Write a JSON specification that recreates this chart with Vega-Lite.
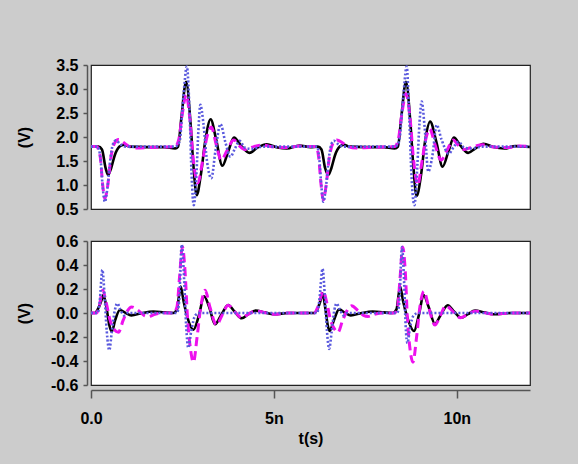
{
  "$schema": "https://vega.github.io/schema/vega-lite/v6.json",
  "autosize": {"type": "none"},
  "padding": {"left": 91, "top": 65, "right": 487, "bottom": 399},
  "background": "#cccccc",
  "config": {
    "font": "Liberation Sans",
    "view": {"fill": "white", "stroke": "#222222", "strokeWidth": 1.2},
    "axis": {
      "labelFont": "Liberation Sans", "labelFontSize": 16, "labelFontWeight": "bold", "labelColor": "black",
      "titleFont": "Liberation Sans", "titleFontSize": 16, "titleFontWeight": "bold", "titleColor": "black",
      "domainColor": "#555555", "domainWidth": 1.5, "tickColor": "#555555", "tickWidth": 1.5, "grid": false,
      "labelFlush": false, "labelOverlap": false
    }
  },
  "datasets": {
    "topSolid": [
      {"t":0,"v":1.8},{"t":0.2,"v":1.8},{"t":0.3,"v":1.74},{"t":0.4,"v":1.35},{"t":0.47,"v":1.21},{"t":0.55,"v":1.35},{"t":0.65,"v":1.62},{"t":0.78,"v":1.8},{"t":0.9,"v":1.84},{"t":1.05,"v":1.8},{"t":1.5,"v":1.79},{"t":2.0,"v":1.79},{"t":2.3,"v":1.76},{"t":2.38,"v":1.8},{"t":2.47,"v":2.4},{"t":2.6,"v":3.15},{"t":2.72,"v":2.3},{"t":2.8,"v":1.4},{"t":2.89,"v":0.79},{"t":3.0,"v":1.2},{"t":3.12,"v":1.9},{"t":3.27,"v":2.37},{"t":3.42,"v":1.95},{"t":3.59,"v":1.4},{"t":3.75,"v":1.7},{"t":3.91,"v":1.99},{"t":4.1,"v":1.82},{"t":4.33,"v":1.67},{"t":4.55,"v":1.78},{"t":4.8,"v":1.85},{"t":5.1,"v":1.78},{"t":5.35,"v":1.76},{"t":5.7,"v":1.82},{"t":6.0,"v":1.79},
      {"t":6.2,"v":1.8},{"t":6.3,"v":1.74},{"t":6.4,"v":1.35},{"t":6.49,"v":1.21},{"t":6.57,"v":1.35},{"t":6.67,"v":1.62},{"t":6.8,"v":1.8},{"t":6.92,"v":1.84},{"t":7.05,"v":1.8},{"t":7.5,"v":1.79},{"t":8.0,"v":1.79},{"t":8.3,"v":1.76},{"t":8.39,"v":1.8},{"t":8.48,"v":2.4},{"t":8.61,"v":3.15},{"t":8.73,"v":2.3},{"t":8.81,"v":1.4},{"t":8.9,"v":0.77},{"t":9.02,"v":1.2},{"t":9.13,"v":1.9},{"t":9.27,"v":2.32},{"t":9.44,"v":1.9},{"t":9.61,"v":1.38},{"t":9.77,"v":1.7},{"t":9.92,"v":1.99},{"t":10.1,"v":1.82},{"t":10.31,"v":1.67},{"t":10.5,"v":1.76},{"t":10.73,"v":1.86},{"t":11.0,"v":1.79},{"t":11.3,"v":1.76},{"t":11.6,"v":1.81},{"t":12.0,"v":1.79}
    ],
    "topDashed": [
      {"t":0,"v":1.8},{"t":0.15,"v":1.8},{"t":0.25,"v":1.6},{"t":0.32,"v":1.0},{"t":0.38,"v":0.72},{"t":0.45,"v":0.95},{"t":0.55,"v":1.6},{"t":0.65,"v":1.88},{"t":0.75,"v":1.95},{"t":0.9,"v":1.88},{"t":1.05,"v":1.8},{"t":1.25,"v":1.77},{"t":1.6,"v":1.78},{"t":2.0,"v":1.79},{"t":2.3,"v":1.8},{"t":2.4,"v":1.95},{"t":2.5,"v":2.5},{"t":2.6,"v":2.88},{"t":2.7,"v":2.4},{"t":2.8,"v":1.5},{"t":2.92,"v":1.04},{"t":3.05,"v":1.5},{"t":3.17,"v":2.0},{"t":3.29,"v":2.21},{"t":3.42,"v":1.85},{"t":3.56,"v":1.52},{"t":3.72,"v":1.72},{"t":3.9,"v":1.94},{"t":4.05,"v":1.82},{"t":4.21,"v":1.74},{"t":4.45,"v":1.8},{"t":4.7,"v":1.83},{"t":5.0,"v":1.79},{"t":5.4,"v":1.78},{"t":5.7,"v":1.81},{"t":6.0,"v":1.8},
      {"t":6.15,"v":1.8},{"t":6.22,"v":1.6},{"t":6.29,"v":1.0},{"t":6.35,"v":0.69},{"t":6.42,"v":0.95},{"t":6.52,"v":1.6},{"t":6.62,"v":1.88},{"t":6.72,"v":1.94},{"t":6.87,"v":1.88},{"t":7.02,"v":1.8},{"t":7.25,"v":1.77},{"t":7.6,"v":1.78},{"t":8.0,"v":1.79},{"t":8.3,"v":1.8},{"t":8.4,"v":1.95},{"t":8.5,"v":2.5},{"t":8.61,"v":2.9},{"t":8.72,"v":2.4},{"t":8.82,"v":1.5},{"t":8.93,"v":1.0},{"t":9.05,"v":1.5},{"t":9.15,"v":1.95},{"t":9.26,"v":2.17},{"t":9.4,"v":1.85},{"t":9.57,"v":1.52},{"t":9.73,"v":1.72},{"t":9.9,"v":1.94},{"t":10.05,"v":1.82},{"t":10.2,"v":1.74},{"t":10.45,"v":1.8},{"t":10.7,"v":1.84},{"t":11.0,"v":1.79},{"t":11.4,"v":1.78},{"t":11.7,"v":1.81},{"t":12.0,"v":1.8}
    ],
    "topDotted": [
      {"t":0,"v":1.8},{"t":0.18,"v":1.8},{"t":0.26,"v":1.55},{"t":0.32,"v":0.95},{"t":0.38,"v":0.65},{"t":0.45,"v":0.95},{"t":0.53,"v":1.55},{"t":0.6,"v":1.85},{"t":0.68,"v":1.93},{"t":0.8,"v":1.85},{"t":0.95,"v":1.8},{"t":1.5,"v":1.8},{"t":2.3,"v":1.8},{"t":2.42,"v":1.9},{"t":2.52,"v":2.8},{"t":2.62,"v":3.47},{"t":2.7,"v":2.4},{"t":2.75,"v":1.2},{"t":2.81,"v":0.58},{"t":2.88,"v":1.2},{"t":2.94,"v":2.2},{"t":2.99,"v":2.67},{"t":3.07,"v":2.3},{"t":3.17,"v":1.5},{"t":3.29,"v":1.14},{"t":3.4,"v":1.7},{"t":3.54,"v":2.27},{"t":3.67,"v":1.9},{"t":3.81,"v":1.59},{"t":3.93,"v":1.75},{"t":4.06,"v":1.92},{"t":4.2,"v":1.78},{"t":4.4,"v":1.75},{"t":4.7,"v":1.8},{"t":6.0,"v":1.8},
      {"t":6.18,"v":1.8},{"t":6.24,"v":1.55},{"t":6.3,"v":0.95},{"t":6.35,"v":0.65},{"t":6.42,"v":0.95},{"t":6.5,"v":1.55},{"t":6.57,"v":1.85},{"t":6.64,"v":1.92},{"t":6.76,"v":1.85},{"t":6.92,"v":1.8},{"t":8.3,"v":1.8},{"t":8.42,"v":1.9},{"t":8.53,"v":2.8},{"t":8.63,"v":3.47},{"t":8.7,"v":2.4},{"t":8.76,"v":1.2},{"t":8.84,"v":0.58},{"t":8.92,"v":1.4},{"t":8.98,"v":2.3},{"t":9.04,"v":2.74},{"t":9.12,"v":2.2},{"t":9.22,"v":1.28},{"t":9.33,"v":1.6},{"t":9.45,"v":2.25},{"t":9.58,"v":1.95},{"t":9.78,"v":1.65},{"t":9.92,"v":1.8},{"t":10.05,"v":1.9},{"t":10.2,"v":1.78},{"t":10.4,"v":1.76},{"t":10.7,"v":1.8},{"t":12.0,"v":1.8}
    ],
    "bottomSolid": [
      {"t":0,"v":0},{"t":0.1,"v":0},{"t":0.2,"v":0.04},{"t":0.28,"v":0.1},{"t":0.34,"v":0.15},{"t":0.42,"v":0.05},{"t":0.5,"v":-0.1},{"t":0.57,"v":-0.156},{"t":0.66,"v":-0.06},{"t":0.79,"v":0.025},{"t":0.95,"v":0},{"t":1.1,"v":-0.02},{"t":1.4,"v":0},{"t":1.7,"v":0.012},{"t":2.0,"v":0.005},{"t":2.25,"v":0},{"t":2.35,"v":0.03},{"t":2.45,"v":0.22},{"t":2.53,"v":0.1},{"t":2.62,"v":-0.02},{"t":2.8,"v":-0.14},{"t":2.95,"v":-0.02},{"t":3.09,"v":0.14},{"t":3.23,"v":0.05},{"t":3.39,"v":-0.094},{"t":3.57,"v":-0.01},{"t":3.75,"v":0.067},{"t":3.93,"v":0.01},{"t":4.12,"v":-0.044},{"t":4.3,"v":-0.01},{"t":4.5,"v":0.02},{"t":4.75,"v":0.005},{"t":5.0,"v":-0.01},{"t":5.4,"v":0},{"t":6.0,"v":0},
      {"t":6.1,"v":0},{"t":6.2,"v":0.04},{"t":6.27,"v":0.1},{"t":6.33,"v":0.165},{"t":6.4,"v":0.05},{"t":6.47,"v":-0.1},{"t":6.52,"v":-0.15},{"t":6.64,"v":-0.06},{"t":6.78,"v":0.03},{"t":6.95,"v":0},{"t":7.1,"v":-0.02},{"t":7.4,"v":0},{"t":7.7,"v":0.012},{"t":8.0,"v":0.005},{"t":8.25,"v":0},{"t":8.35,"v":0.03},{"t":8.45,"v":0.22},{"t":8.53,"v":0.1},{"t":8.63,"v":-0.02},{"t":8.83,"v":-0.15},{"t":8.96,"v":-0.02},{"t":9.09,"v":0.15},{"t":9.23,"v":0.05},{"t":9.4,"v":-0.09},{"t":9.57,"v":-0.01},{"t":9.75,"v":0.065},{"t":9.93,"v":0.01},{"t":10.12,"v":-0.04},{"t":10.3,"v":-0.01},{"t":10.5,"v":0.02},{"t":10.75,"v":0.005},{"t":11.0,"v":-0.01},{"t":11.5,"v":0},{"t":12.0,"v":0}
    ],
    "bottomDashed": [
      {"t":0,"v":0},{"t":0.15,"v":0},{"t":0.22,"v":0.05},{"t":0.32,"v":0.19},{"t":0.42,"v":0.08},{"t":0.52,"v":-0.06},{"t":0.62,"v":-0.13},{"t":0.75,"v":-0.16},{"t":0.88,"v":-0.06},{"t":1.0,"v":0.02},{"t":1.11,"v":0.05},{"t":1.3,"v":0.02},{"t":1.45,"v":-0.02},{"t":1.57,"v":-0.03},{"t":1.75,"v":-0.01},{"t":2.0,"v":0},{"t":2.25,"v":0},{"t":2.35,"v":0.05},{"t":2.42,"v":0.3},{"t":2.5,"v":0.55},{"t":2.57,"v":0.35},{"t":2.64,"v":-0.05},{"t":2.72,"v":-0.3},{"t":2.8,"v":-0.41},{"t":2.9,"v":-0.2},{"t":3.0,"v":0.05},{"t":3.12,"v":0.19},{"t":3.25,"v":0.05},{"t":3.43,"v":-0.1},{"t":3.58,"v":-0.02},{"t":3.75,"v":0.065},{"t":3.93,"v":0.01},{"t":4.12,"v":-0.04},{"t":4.3,"v":-0.01},{"t":4.5,"v":0.015},{"t":4.8,"v":0},{"t":5.0,"v":-0.01},{"t":5.4,"v":0},{"t":6.0,"v":0},
      {"t":6.1,"v":0},{"t":6.2,"v":0.05},{"t":6.35,"v":0.18},{"t":6.45,"v":0.08},{"t":6.55,"v":-0.06},{"t":6.65,"v":-0.13},{"t":6.75,"v":-0.16},{"t":6.88,"v":-0.06},{"t":7.0,"v":0.02},{"t":7.12,"v":0.06},{"t":7.3,"v":0.02},{"t":7.45,"v":-0.02},{"t":7.57,"v":-0.03},{"t":7.75,"v":-0.01},{"t":8.0,"v":0},{"t":8.3,"v":0},{"t":8.38,"v":0.05},{"t":8.45,"v":0.3},{"t":8.52,"v":0.55},{"t":8.59,"v":0.35},{"t":8.65,"v":-0.05},{"t":8.72,"v":-0.3},{"t":8.8,"v":-0.41},{"t":8.9,"v":-0.2},{"t":8.99,"v":0.05},{"t":9.1,"v":0.18},{"t":9.23,"v":0.05},{"t":9.4,"v":-0.1},{"t":9.55,"v":-0.02},{"t":9.7,"v":0.06},{"t":9.9,"v":0.01},{"t":10.1,"v":-0.04},{"t":10.3,"v":-0.01},{"t":10.5,"v":0.015},{"t":10.8,"v":0},{"t":11.0,"v":-0.01},{"t":11.5,"v":0},{"t":12.0,"v":0}
    ],
    "bottomDotted": [
      {"t":0,"v":0},{"t":0.18,"v":0},{"t":0.24,"v":0.1},{"t":0.31,"v":0.36},{"t":0.37,"v":0.15},{"t":0.43,"v":-0.15},{"t":0.5,"v":-0.31},{"t":0.57,"v":-0.15},{"t":0.65,"v":0.02},{"t":0.72,"v":0.08},{"t":0.8,"v":0.03},{"t":0.9,"v":-0.02},{"t":1.0,"v":0},{"t":2.35,"v":0},{"t":2.41,"v":0.1},{"t":2.48,"v":0.57},{"t":2.55,"v":0.25},{"t":2.6,"v":-0.1},{"t":2.66,"v":-0.29},{"t":2.74,"v":-0.15},{"t":2.85,"v":-0.02},{"t":2.97,"v":0},{"t":6.0,"v":0},
      {"t":6.18,"v":0},{"t":6.24,"v":0.1},{"t":6.33,"v":0.37},{"t":6.39,"v":0.15},{"t":6.45,"v":-0.15},{"t":6.51,"v":-0.3},{"t":6.58,"v":-0.15},{"t":6.65,"v":0.02},{"t":6.71,"v":0.08},{"t":6.8,"v":0.03},{"t":6.9,"v":-0.02},{"t":7.0,"v":0},{"t":8.37,"v":0},{"t":8.43,"v":0.1},{"t":8.5,"v":0.55},{"t":8.56,"v":0.25},{"t":8.6,"v":-0.1},{"t":8.65,"v":-0.25},{"t":8.72,"v":-0.12},{"t":8.82,"v":-0.02},{"t":8.95,"v":0},{"t":12.0,"v":0}
    ]
  },
  "bounds": "flush",
  "spacing": 32,
  "vconcat": [
    {
      "width": 439,
      "height": 144,
      "encoding": {
        "x": {"field": "t", "type": "quantitative", "scale": {"domain": [0, 12], "nice": false, "zero": false}, "axis": null},
        "y": {
          "field": "v", "type": "quantitative",
          "scale": {"domain": [0.5, 3.5], "nice": false, "zero": false},
          "axis": {
            "title": "(V)", "values": [0.5, 1, 1.5, 2, 2.5, 3, 3.5],
            "labelExpr": "format(datum.value, '.1f')",
            "offset": 4, "tickSize": 4, "labelPadding": 5,
            "titleX": -63, "titleY": 72, "titleBaseline": "middle", "titleAngle": -90
          }
        }
      },
      "layer": [
        {"data": {"name": "topSolid"}, "mark": {"type": "line", "interpolate": "monotone", "color": "black", "strokeWidth": 2.6}},
        {"data": {"name": "topDashed"}, "mark": {"type": "line", "interpolate": "monotone", "color": "#ee10ee", "strokeWidth": 3, "strokeDash": [9, 5]}},
        {"data": {"name": "topDotted"}, "mark": {"type": "line", "interpolate": "monotone", "color": "#5a5ade", "strokeWidth": 2.6, "strokeDash": [2, 2]}}
      ]
    },
    {
      "width": 439,
      "height": 144,
      "encoding": {
        "x": {
          "field": "t", "type": "quantitative",
          "scale": {"domain": [0, 12], "nice": false, "zero": false},
          "axis": {
            "title": "t(s)", "values": [0, 5, 10],
            "labelExpr": "datum.value == 0 ? '0.0' : datum.value + 'n'",
            "offset": 5, "tickSize": 8, "labelPadding": 12,
            "titleY": 40, "titleBaseline": "top"
          }
        },
        "y": {
          "field": "v", "type": "quantitative",
          "scale": {"domain": [-0.6, 0.6], "nice": false, "zero": false},
          "axis": {
            "title": "(V)", "values": [-0.6, -0.4, -0.2, 0, 0.2, 0.4, 0.6],
            "labelExpr": "replace(format(datum.value, '.1f'), '\u2212', '-')",
            "offset": 4, "tickSize": 4, "labelPadding": 5,
            "titleX": -63, "titleY": 72, "titleBaseline": "middle", "titleAngle": -90
          }
        }
      },
      "layer": [
        {"data": {"name": "bottomSolid"}, "mark": {"type": "line", "interpolate": "monotone", "color": "black", "strokeWidth": 2.6}},
        {"data": {"name": "bottomDashed"}, "mark": {"type": "line", "interpolate": "monotone", "color": "#ee10ee", "strokeWidth": 3, "strokeDash": [9, 5]}},
        {"data": {"name": "bottomDotted"}, "mark": {"type": "line", "interpolate": "monotone", "color": "#5a5ade", "strokeWidth": 2.6, "strokeDash": [2, 2]}}
      ]
    }
  ]
}
